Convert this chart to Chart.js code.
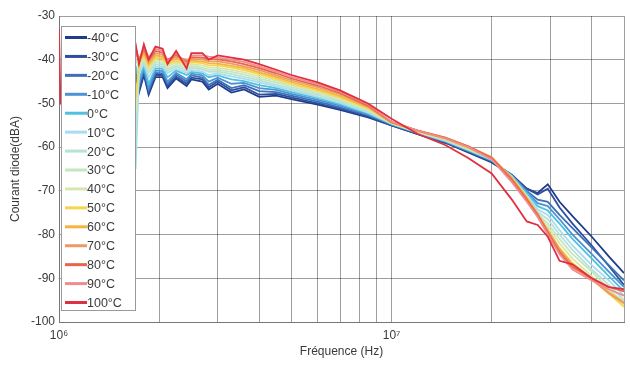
<!DOCTYPE html>
<html>
<head>
<meta charset="utf-8">
<script src="https://cdn.jsdelivr.net/npm/chart.js@4.4.1/dist/chart.umd.min.js"></script>
<style>
html,body{margin:0;padding:0;background:#fff;}
#wrap{width:630px;height:365px;position:relative;}
</style>
</head>
<body>
<div id="wrap"><canvas id="c" width="630" height="365"></canvas></div>
<script>
// Frequencies (Hz)
const FREQ = [1.0e6, 1.01e6, 1.68e6, 1.7e6, 1.74e6, 1.8e6, 1.86e6, 1.95e6, 2.05e6, 2.12e6,
  2.25e6, 2.42e6, 2.5e6, 2.7e6, 2.82e6, 3.0e6, 3.3e6, 3.6e6, 4.0e6, 4.5e6,
  5.0e6, 6.0e6, 7.0e6, 8.5e6, 1.0e7, 1.2e7, 1.45e7, 1.7e7, 2.0e7, 2.3e7,
  2.55e7, 2.75e7, 2.95e7, 3.2e7, 3.5e7, 4.0e7, 4.5e7, 5.0e7];

const TEMPS = ['-40°C','-30°C','-20°C','-10°C','0°C','10°C','20°C','30°C','40°C','50°C','60°C','70°C','80°C','90°C','100°C'];
const COLORS = ['#1f3b8c','#2c4f9e','#3d70b8','#4d92d2','#4fc0e0','#a9dcef','#b6e3d6','#c4e7c2','#d6e6ae','#f7d54a','#f5b340','#ec9a62','#e8654c','#f08c8c','#e0303f'];

// Current (dBA) per temperature
const tM40 = [-46,-46,-43.5,-43.5,-47.5,-43.5,-48,-44,-44,-46.5,-44.3,-46,-44.5,-45,-46.8,-45.5,-47.5,-46.8,-48.5,-48.2,-49,-50.3,-51.5,-53.2,-55,-57,-59,-61.2,-63.5,-66.5,-69.5,-70.5,-68.5,-72.5,-75.8,-80.5,-85,-88.8];
const tM30 = [-46,-46,-43,-43,-47,-43,-47.5,-43.5,-43.5,-46,-43.9,-45.5,-44.1,-44.5,-46.3,-45,-47,-46.3,-48,-47.8,-48.6,-50,-51.2,-53,-55,-57,-59,-61,-63.3,-66.3,-69.5,-70.8,-69.5,-73.8,-77.5,-82.5,-87.2,-91.5];
const tM20 = [-46,-46,-42.6,-42.5,-46,-42.5,-47,-43,-43.1,-45.5,-43.4,-45,-43.6,-44.1,-45.8,-44.6,-46.5,-45.8,-47.2,-47.4,-48.2,-49.6,-50.9,-52.7,-54.8,-56.8,-58.8,-60.9,-63.2,-66.5,-70,-72,-72.5,-75.5,-78.5,-83,-87,-90.5];
const tM10 = [-46,-46,-42.1,-42,-45.5,-42,-46.5,-42.5,-42.6,-45,-43,-44.5,-43.2,-43.6,-45,-44.1,-45.5,-45.3,-46.5,-46.9,-47.8,-49.2,-50.5,-52.5,-54.8,-56.8,-58.7,-60.8,-63,-66.5,-70.2,-72.8,-73.5,-76.5,-80,-84.5,-88.5,-92];
const t0   = [-46,-46,-41.6,-41.5,-44.5,-41.5,-45.5,-42,-42.1,-44,-42.5,-43.5,-42.8,-43.1,-44,-43.6,-44.5,-44.9,-45.8,-46.5,-47.4,-48.8,-50.2,-52.3,-54.7,-56.7,-58.6,-60.7,-63,-66.6,-70.5,-73.5,-74.5,-77.5,-81,-85.5,-89.5,-93];
const t10  = [-46,-46,-41.2,-65,-43,-41,-44,-41.5,-41.7,-43,-42.1,-43,-42.4,-42.7,-43.5,-43.2,-43.8,-44.4,-45.2,-46.1,-47,-48.5,-49.9,-52.1,-54.6,-56.6,-58.5,-60.6,-62.8,-66.8,-71,-74.2,-75.5,-79,-82.5,-87,-90.5,-94];
const t20  = [-46,-46,-40.7,-58,-42.5,-40.5,-43,-41,-41.2,-42.5,-41.6,-42.5,-41.9,-42.2,-42.8,-42.7,-43.3,-43.9,-44.7,-45.7,-46.6,-48.1,-49.6,-51.8,-54.6,-56.6,-58.4,-60.5,-62.8,-66.8,-71.2,-74.8,-76.5,-80,-83.5,-88,-91.5,-95];
const t30  = [-46,-46,-40.3,-40,-42,-40,-42.5,-40.5,-40.8,-42,-41.2,-42,-41.5,-41.8,-42.3,-42.3,-42.8,-43.4,-44.3,-45.2,-46.2,-47.7,-49.3,-51.6,-54.5,-56.5,-58.3,-60.4,-62.7,-67,-71.3,-75.2,-77.5,-81,-84.5,-88.5,-92.5,-95.5];
const t40  = [-46,-46,-39.8,-52,-41.5,-39.5,-42,-40,-40.3,-41.5,-40.7,-41.5,-41.1,-41.3,-41.8,-41.8,-42.3,-42.9,-43.8,-44.8,-45.8,-47.4,-48.9,-51.4,-54.5,-56.5,-58.2,-60.3,-62.6,-67,-71.4,-75.5,-78.3,-82,-85.5,-89.5,-93,-96];
const t50  = [-46,-46,-39.3,-49,-41,-39,-41.5,-39.5,-39.8,-41,-40.3,-41,-40.6,-40.8,-41.3,-41.3,-41.8,-42.4,-43.3,-44.4,-45.5,-47,-48.6,-51.1,-54.4,-56.4,-58.1,-60.2,-62.5,-67,-71.5,-75.5,-79,-83,-86.5,-90,-93.5,-96.5];
const t60  = [-46,-46,-38.9,-38.5,-40.5,-38.5,-41,-39,-39.4,-40.5,-39.8,-40.5,-40.2,-40.4,-40.8,-40.9,-41.4,-41.9,-42.9,-44,-45.1,-46.7,-48.3,-50.9,-54.4,-56.3,-58,-60,-62.3,-67,-71.5,-75.3,-79,-83.3,-87,-90,-93.2,-95.5];
const t70  = [-46,-46,-38.4,-38,-40,-38,-40.5,-38.5,-38.9,-40,-39.4,-40,-39.8,-39.9,-40.3,-40.4,-40.9,-41.5,-42.4,-43.6,-44.7,-46.3,-47.9,-50.7,-54.3,-56.2,-57.8,-59.8,-62.3,-67.2,-71.8,-75.3,-79.2,-83.5,-87,-90.3,-93.4,-95.7];
const t80  = [-46,-46,-37.9,-37.5,-40,-37.5,-40,-38,-38.4,-40,-38.9,-40.5,-39.4,-39.5,-39.8,-39.9,-40.4,-41,-41.9,-43.1,-44.3,-45.9,-47.6,-50.5,-54.3,-56.2,-57.8,-59.8,-62.5,-67.5,-72,-75.5,-79.5,-84,-87.5,-90,-92,-93];
const t90  = [-46,-46,-37.5,-37,-40.5,-37,-39.5,-37.5,-38,-40.5,-38.5,-41,-39,-39,-39.3,-39.5,-40,-40.5,-41.5,-42.7,-43.9,-45.6,-47.3,-50.2,-54.2,-56.3,-58,-60,-62.8,-68,-72.5,-76,-80,-84.5,-88,-90.5,-92.5,-94];
const t100 = [-33,-50,-37,-36.5,-41,-36.5,-40,-37,-37.5,-41,-38,-42,-38.5,-38.5,-40,-39,-39.5,-40,-41,-42.3,-43.5,-45.2,-47,-50,-53.5,-57,-59.5,-62.5,-66,-72,-77,-77.8,-80.5,-86,-86.8,-90,-92,-92.5];

const SERIES = [tM40,tM30,tM20,tM10,t0,t10,t20,t30,t40,t50,t60,t70,t80,t90,t100];

const X_TICKS = [1e6,2e6,3e6,4e6,5e6,6e6,7e6,8e6,9e6,1e7,2e7,3e7,4e7,5e7];
const X_LABELS = {1000000:'10\u2076', 10000000:'10\u2077'};

const FONT = "'Liberation Sans', Arial, sans-serif";

const datasets = SERIES.map((vals, i) => ({
  label: TEMPS[i],
  data: vals.map((v, k) => ({x: FREQ[k], y: v})),
  borderColor: COLORS[i],
  backgroundColor: COLORS[i],
  borderWidth: 1.8,
  pointRadius: 0,
  tension: 0,
  fill: false,
  order: SERIES.length - i
}));

const insideLegend = {
  id: 'insideLegend',
  afterDatasetsDraw(chart) {
    const ctx = chart.ctx;
    const x0 = 61, y0 = 26, w = 74, h = 284;
    ctx.save();
    ctx.fillStyle = '#ffffff';
    ctx.fillRect(x0, y0, w, h);
    ctx.strokeStyle = '#9a9a9a';
    ctx.lineWidth = 1;
    ctx.strokeRect(x0 + 0.5, y0 + 0.5, w, h);
    ctx.font = "12.5px " + FONT;
    ctx.textBaseline = 'middle';
    ctx.textAlign = 'left';
    const step = 18.93;
    TEMPS.forEach((t, i) => {
      const y = 37.5 + i * step;
      ctx.strokeStyle = COLORS[i];
      ctx.lineWidth = 3;
      ctx.beginPath();
      ctx.moveTo(65, y);
      ctx.lineTo(87, y);
      ctx.stroke();
      ctx.fillStyle = '#3a3a3a';
      ctx.fillText(t, 87, y + 1);
    });
    ctx.restore();
  }
};

new Chart(document.getElementById('c'), {
  type: 'line',
  data: { datasets },
  plugins: [insideLegend],
  options: {
    responsive: false,
    animation: false,
    devicePixelRatio: 1,
    layout: { padding: { top: 16, right: 2, left: 0, bottom: 0 } },
    plugins: { legend: { display: false }, tooltip: { enabled: false } },
    scales: {
      x: {
        type: 'logarithmic',
        min: 1e6,
        max: 5e7,
        afterBuildTicks(scale) { scale.ticks = X_TICKS.map(v => ({ value: v })); },
        afterFit(scale) { scale.height = 43; },
        ticks: {
          autoSkip: false,
          maxRotation: 0,
          padding: 6,
          color: '#3a3a3a',
          font: { family: FONT, size: 12 },
          callback: (v) => X_LABELS[v] || ''
        },
        grid: { color: 'rgba(0,0,0,0.38)', lineWidth: 1, drawTicks: false },
        border: { color: '#777' },
        title: {
          display: true,
          text: 'Fréquence (Hz)',
          color: '#3a3a3a',
          font: { family: FONT, size: 12 },
          padding: { top: 0, bottom: 6 }
        }
      },
      y: {
        min: -100,
        max: -30,
        afterFit(scale) { scale.width = 59; },
        ticks: {
          stepSize: 10,
          padding: 4,
          color: '#3a3a3a',
          font: { family: FONT, size: 12 }
        },
        grid: { color: 'rgba(0,0,0,0.38)', lineWidth: 1, drawTicks: false },
        border: { color: '#777' },
        title: {
          display: true,
          text: 'Courant diode(dBA)',
          color: '#3a3a3a',
          font: { family: FONT, size: 12 },
          padding: { top: 8, bottom: 0 }
        }
      }
    }
  }
});
</script>
</body>
</html>
